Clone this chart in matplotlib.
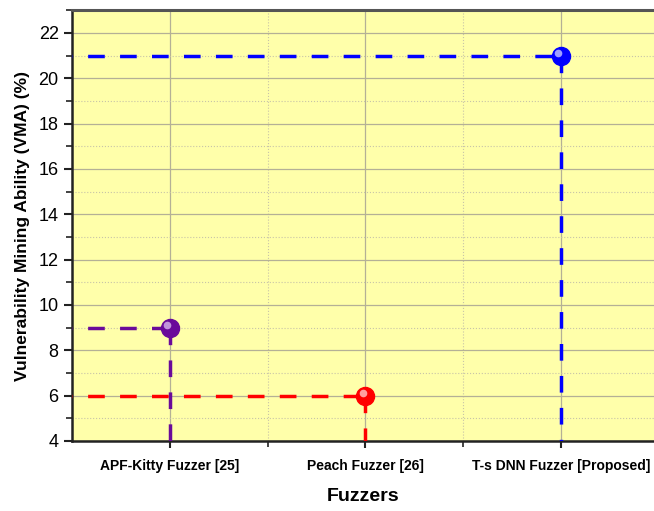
import matplotlib
matplotlib.use("Agg")
import matplotlib.pyplot as plt
import matplotlib.transforms as mtransforms
from matplotlib.ticker import MultipleLocator, FixedLocator

plt.rcParams['font.family'] = ['Liberation Sans', 'DejaVu Sans']

categories = ["APF-Kitty Fuzzer [25]", "Peach Fuzzer [26]", "T-s DNN Fuzzer [Proposed]"]
vma = [9, 6, 21]
colors = ["#6a0a9a", "#ff0000", "#0000ff"]
highlights = ["#d9b8ee", "#ffc8c8", "#c8c8ff"]

fig = plt.figure(figsize=(6.54, 5.11), dpi=100)
ax = fig.add_axes([0.110, 0.137, 0.890, 0.843])
ax.set_facecolor("#ffffaa")

xs = list(range(1, len(categories) + 1))
ax.set_xlim(0.5, 3.475)
ax.set_ylim(4, 23)

ax.yaxis.set_major_locator(MultipleLocator(2))
ax.yaxis.set_minor_locator(MultipleLocator(1))
ax.xaxis.set_major_locator(FixedLocator(xs))
ax.xaxis.set_minor_locator(FixedLocator([1.5, 2.5]))
ax.set_xticks(xs)
ax.set_xticklabels(categories, fontweight='bold', fontsize=10)

ax.grid(True, which='major', color='#b4b096', linewidth=0.9)
ax.grid(True, which='minor', color='#c8c4a8', linewidth=0.8, linestyle=':')
ax.set_axisbelow(True)

for x, y, c, h in zip(xs, vma, colors, highlights):
    ax.plot([0.5, x], [y, y], color=c, lw=2.5, linestyle=(-4.5, (4.8, 4.4)), zorder=3)
    ax.plot([x, x], [y, 4], color=c, lw=2.5, linestyle=(0, (4.8, 4.4)), zorder=3)
    ax.plot([x], [y], marker='o', markersize=13, color=c, markeredgecolor=c, zorder=5, clip_on=False)
    tr = mtransforms.offset_copy(ax.transData, fig=fig, x=-2.0, y=2.0, units='points')
    ax.plot([x], [y], marker='o', markersize=5.5, color=h, markeredgewidth=0, alpha=0.8,
            transform=tr, zorder=6, clip_on=False)

ax.tick_params(axis='y', which='major', direction='out', length=6, width=1.5, labelsize=13, color='#222222')
ax.tick_params(axis='y', which='minor', direction='out', length=4, width=1.2, color='#222222')
ax.tick_params(axis='x', which='major', direction='out', length=5, width=1.5, pad=8, color='#222222')
ax.tick_params(axis='x', which='minor', direction='out', length=4, width=1.2, color='#222222')

for s in ['left', 'bottom']:
    ax.spines[s].set_linewidth(1.8)
    ax.spines[s].set_color('#222222')
ax.spines['top'].set_linewidth(2.2)
ax.spines['top'].set_color('#555555')
ax.spines['right'].set_visible(False)

ax.set_ylabel("Vulnerability Mining Ability (VMA) (%)", fontweight='bold', fontsize=12.5, labelpad=6)
ax.set_xlabel("Fuzzers", fontweight='bold', fontsize=14, labelpad=11)

fig.savefig("out.png", dpi=100)
